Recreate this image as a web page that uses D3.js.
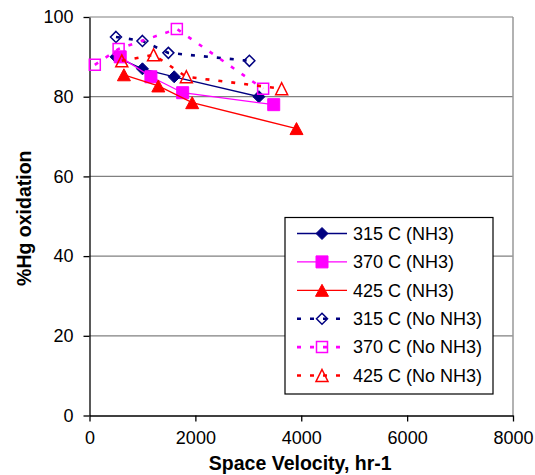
<!DOCTYPE html>
<html>
<head>
<meta charset="utf-8">
<script src="https://cdn.jsdelivr.net/npm/d3@7"></script>
<style>
  html, body { margin: 0; padding: 0; background: #fff; }
  svg { display: block; font-family: "Liberation Sans", Arial, sans-serif; }
</style>
</head>
<body>
<svg id="chart" width="535" height="475"></svg>
<script>
// Space velocity (hr-1) and %Hg oxidation for each catalyst temperature
const vel315NH3 = [500, 1000, 1600, 3200];
const pct315NH3 = [90, 87, 85, 80];
const vel370NH3 = [580, 1160, 1760, 3480];
const pct370NH3 = [90, 85, 81, 78];
const vel425NH3 = [650, 1300, 1940, 3910];
const pct425NH3 = [85.5, 82.7, 78.5, 72];
const vel315NoNH3 = [500, 1000, 1490, 3020];
const pct315NoNH3 = [95, 94, 91, 89];
const vel370NoNH3 = [100, 550, 1650, 3280];
const pct370NoNH3 = [88, 92, 97, 82];
const vel425NoNH3 = [610, 1210, 1830, 3630];
const pct425NoNH3 = [89, 90.5, 85, 82];

const seriesNames = ["315 C (NH3)", "370 C (NH3)", "425 C (NH3)",
                     "315 C (No NH3)", "370 C (No NH3)", "425 C (No NH3)"];
const xTicks = [0, 2000, 4000, 6000, 8000];
const yTicks = [0, 20, 40, 60, 80, 100];
const xTitle = "Space Velocity, hr-1";
const yTitle = "%Hg oxidation";

const series = [
  { name: seriesNames[0], x: vel315NH3, y: pct315NH3, color: "#000080", shape: "diamond", hollow: false },
  { name: seriesNames[1], x: vel370NH3, y: pct370NH3, color: "#FF00FF", shape: "square", hollow: false },
  { name: seriesNames[2], x: vel425NH3, y: pct425NH3, color: "#FF0000", shape: "triangle", hollow: false },
  { name: seriesNames[3], x: vel315NoNH3, y: pct315NoNH3, color: "#000080", shape: "diamond", hollow: true },
  { name: seriesNames[4], x: vel370NoNH3, y: pct370NoNH3, color: "#FF00FF", shape: "square", hollow: true },
  { name: seriesNames[5], x: vel425NoNH3, y: pct425NoNH3, color: "#FF0000", shape: "triangle", hollow: true }
];

const svg = d3.select("#chart");
const plotLeft = 89.5, plotRight = 513, plotTop = 17, plotBottom = 415.5;

const x = d3.scaleLinear().domain([0, 8000]).range([plotLeft, plotRight]);
const y = d3.scaleLinear().domain([0, 100]).range([plotBottom, plotTop]);

// Horizontal gridlines
svg.append("g")
  .selectAll("line")
  .data(yTicks.filter(d => d > 0))
  .join("line")
  .attr("x1", plotLeft).attr("x2", plotRight)
  .attr("y1", d => y(d)).attr("y2", d => y(d))
  .attr("stroke", "#808080").attr("stroke-width", 1.2);

// Right border of the plot area
svg.append("line")
  .attr("x1", plotRight).attr("x2", plotRight)
  .attr("y1", plotTop).attr("y2", plotBottom)
  .attr("stroke", "#999").attr("stroke-width", 1.5);

// Axes
const xAxis = svg.append("g")
  .attr("transform", `translate(0,${plotBottom})`)
  .call(d3.axisBottom(x).tickValues(xTicks).tickFormat(d3.format("d")).tickSizeInner(6).tickSizeOuter(0).tickPadding(10));
const yAxis = svg.append("g")
  .attr("transform", `translate(${plotLeft},0)`)
  .call(d3.axisLeft(y).tickValues(yTicks).tickFormat(d3.format("d")).tickSizeInner(6).tickSizeOuter(0).tickPadding(10));

[xAxis, yAxis].forEach(g => {
  g.select(".domain").attr("stroke", "#000").attr("stroke-width", 1.3);
  g.selectAll(".tick line").attr("stroke", "#000").attr("stroke-width", 1.3);
  g.selectAll(".tick text").attr("fill", "#000").attr("font-size", 18)
    .attr("font-family", "Liberation Sans, Arial, sans-serif");
});

// Axis titles
svg.append("text")
  .attr("x", (plotLeft + plotRight) / 2 - 1).attr("y", 470)
  .attr("text-anchor", "middle")
  .attr("font-size", 19.5).attr("font-weight", "bold")
  .text(xTitle);
svg.append("text")
  .attr("transform", `translate(31,${(plotTop + plotBottom) / 2 + 2}) rotate(-90)`)
  .attr("text-anchor", "middle")
  .attr("font-size", 19.5).attr("font-weight", "bold")
  .text(yTitle);

// Marker path generators, centred on the data point
function markerPath(shape, hollow) {
  if (shape === "diamond") {
    const r = hollow ? 5.5 : 6;
    return `M0,${-r}L${r},0L0,${r}L${-r},0Z`;
  }
  if (shape === "square") {
    const s = hollow ? 5.5 : 6;
    return `M${-s},${-s}H${s}V${s}H${-s}Z`;
  }
  const w = hollow ? 6 : 6.5, h = 6;
  return `M0,${-h}L${w},${h}L${-w},${h}Z`;
}

function styleMarker(sel, s) {
  sel.attr("d", markerPath(s.shape, s.hollow))
    .attr("fill", s.hollow ? "none" : s.color)
    .attr("stroke", s.color)
    .attr("stroke-width", s.hollow ? 1.5 : 1)
    .attr("stroke-linejoin", "miter");
}

function styleLine(sel, s) {
  sel.attr("fill", "none").attr("stroke", s.color);
  if (s.hollow) sel.attr("stroke-width", 2.6).attr("stroke-dasharray", "4,9");
  else sel.attr("stroke-width", 1.3);
}

const line = d3.line().x(d => x(d[0])).y(d => y(d[1]));

// Series: connecting line followed by its markers
series.forEach(s => {
  const pts = s.x.map((v, i) => [v, s.y[i]]);
  const g = svg.append("g");
  g.append("path").datum(pts).attr("d", line).call(styleLine, s);
  g.selectAll("path.m")
    .data(pts)
    .join("path")
    .attr("class", "m")
    .attr("transform", d => `translate(${x(d[0])},${y(d[1])})`)
    .call(styleMarker, s);
});

// Legend
const lg = svg.append("g");
lg.append("rect")
  .attr("x", 285).attr("y", 217.5).attr("width", 208).attr("height", 176.5)
  .attr("fill", "#fff").attr("stroke", "#000").attr("stroke-width", 1.2);

series.forEach((s, i) => {
  const cy = 233.5 + i * 28.4;
  const row = lg.append("g").attr("transform", `translate(0,${cy})`);
  row.append("path").attr("d", "M297,0H347").call(styleLine, s);
  row.append("path").attr("transform", "translate(322,0)").call(styleMarker, s);
  row.append("text")
    .attr("x", 353).attr("y", 0).attr("dy", "0.35em")
    .attr("font-size", 18).attr("fill", "#000")
    .text(s.name);
});
</script>
</body>
</html>
